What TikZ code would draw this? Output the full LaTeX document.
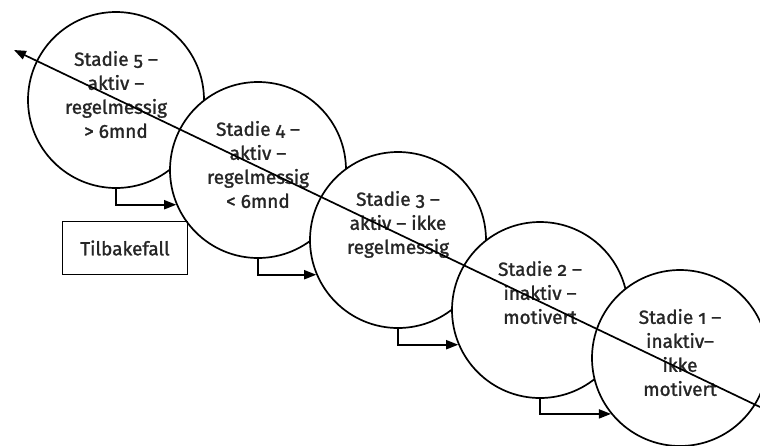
\documentclass[tikz,border=0pt]{standalone}
\usepackage{fontspec}
\setmainfont{Fira Sans}[Numbers=OldStyle, FakeBold=1.3]
\usetikzlibrary{arrows.meta}

\begin{document}
\begin{tikzpicture}[x=1pt, y=-1pt, line width=1.7pt,
  stadie/.style={circle, draw, fill=white, minimum size=176pt, inner sep=0pt},
  tekst/.style={anchor=north, align=center, inner sep=0pt, text=black!85, font=\fontsize{19}{24}\selectfont},
  pil/.style={-{Triangle[length=12pt,width=9pt]}}]

\def\topp{39pt}

\useasboundingbox (0,0) rectangle (760,445);

%circles, back to front
\node[stadie] (s5) at (116,100) {};
\node[stadie] (s4) at (258,170) {};
\node[stadie] (s3) at (398,240) {};
\node[stadie] (s2) at (540,310) {};
\node[stadie] (s1) at (680,358) {};

%texts
\node[tekst] (t5) at ([yshift=-\topp]s5.north) {Stadie 5 --\\aktiv --\\regelmessig\\> 6mnd};
\node[tekst] (t4) at ([yshift=-\topp]s4.north) {Stadie 4 --\\aktiv --\\regelmessig\\< 6mnd};
\node[tekst] (t3) at ([yshift=-\topp]s3.north) {Stadie 3 --\\aktiv -- ikke\\regelmessig};
\node[tekst] (t2) at ([yshift=-\topp]s2.north) {Stadie 2 --\\inaktiv --\\motivert};
\node[tekst] (t1) at ([yshift=-\topp]s1.north) {Stadie 1 --\\inaktiv--\\ikke\\motivert};

\node[draw, line width=1.3pt, minimum width=125pt, minimum height=53pt, inner sep=0pt,
  text=black!85, font=\fontsize{19}{24}\selectfont] (tilbake) at (125,248) {Tilbakefall};

%small arrows
\draw[pil] (s5.south) |- (s4.203);
\draw[pil] (s4.south) |- (s3.203);
\draw[pil] (s3.south) |- (s2.203);
\draw[pil] (s2.south) |- (s1.219);

%long arrow
\coordinate (start) at (760,407);
\coordinate (spiss) at (14,50);
\draw[pil] (start) -- (spiss);

\end{tikzpicture}
\end{document}
